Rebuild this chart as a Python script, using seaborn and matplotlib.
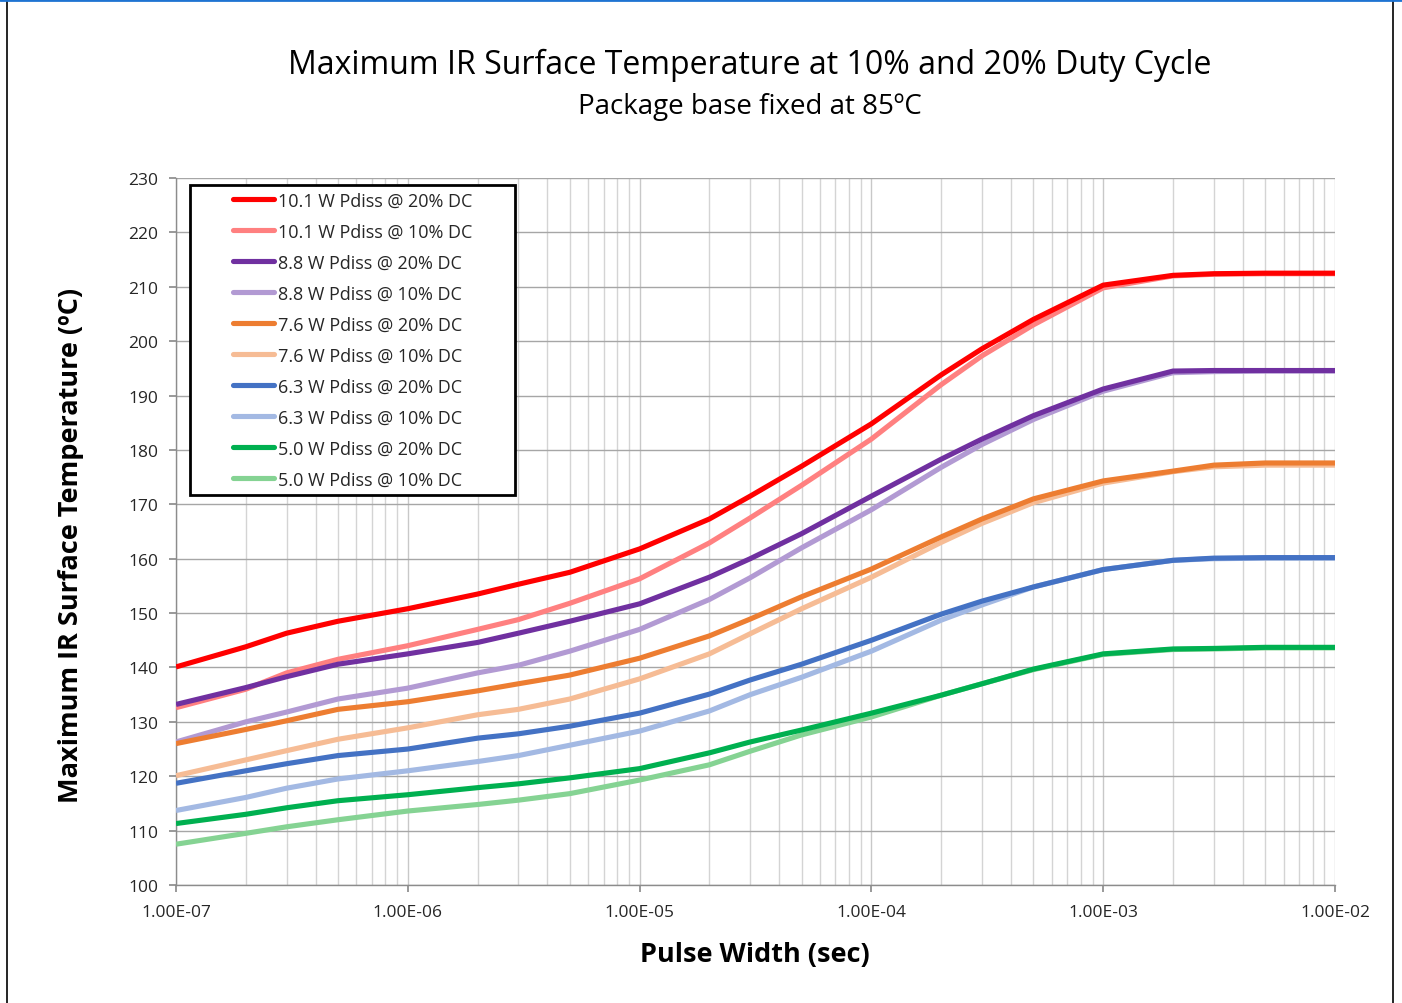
import numpy as np
import pandas as pd
import matplotlib
matplotlib.use("Agg")
import matplotlib.pyplot as plt
import seaborn as sns
from matplotlib.ticker import FixedLocator, FuncFormatter, LogLocator, NullFormatter
from matplotlib.lines import Line2D
from matplotlib.legend_handler import HandlerLine2D

# ---------------- data ----------------
pulse_width = [1e-7, 2e-7, 3e-7, 5e-7, 1e-6, 2e-6, 3e-6, 5e-6, 1e-5, 2e-5, 3e-5,
               5e-5, 1e-4, 2e-4, 3e-4, 5e-4, 1e-3, 2e-3, 3e-3, 5e-3, 1e-2]

t_101_20 = [140.1, 143.8, 146.3, 148.5, 150.8, 153.5, 155.3, 157.5, 161.8, 167.3, 171.5,
            177.0, 184.8, 193.8, 198.6, 204.0, 210.3, 212.1, 212.4, 212.5, 212.5]
t_101_10 = [132.6, 136.0, 139.0, 141.5, 144.0, 147.0, 148.8, 151.8, 156.3, 162.9, 167.5,
            173.5, 182.0, 192.0, 197.3, 203.0, 209.8, 212.0, 212.3, 212.4, 212.4]
t_88_20 = [133.2, 136.3, 138.3, 140.6, 142.5, 144.6, 146.3, 148.5, 151.7, 156.6, 160.0,
           164.6, 171.5, 178.3, 182.0, 186.3, 191.2, 194.5, 194.6, 194.6, 194.6]
t_88_10 = [126.3, 130.0, 131.8, 134.2, 136.2, 139.0, 140.4, 143.0, 147.0, 152.5, 156.5,
           162.0, 169.0, 176.8, 181.0, 185.6, 190.8, 194.2, 194.4, 194.5, 194.5]
t_76_20 = [126.0, 128.6, 130.2, 132.3, 133.7, 135.7, 137.0, 138.6, 141.7, 145.8, 148.9,
           153.0, 158.1, 164.0, 167.3, 171.0, 174.3, 176.1, 177.2, 177.6, 177.6]
t_76_10 = [120.1, 123.0, 124.7, 126.8, 128.9, 131.3, 132.3, 134.2, 137.9, 142.5, 146.2,
           150.8, 156.6, 163.0, 166.5, 170.3, 173.9, 176.0, 176.9, 177.2, 177.2]
t_63_20 = [118.7, 121.0, 122.3, 123.8, 125.0, 127.0, 127.8, 129.2, 131.6, 135.1, 137.7,
           140.6, 145.0, 149.8, 152.2, 154.8, 158.0, 159.7, 160.1, 160.2, 160.2]
t_63_10 = [113.7, 116.1, 117.8, 119.5, 121.0, 122.7, 123.8, 125.7, 128.3, 132.0, 135.0,
           138.2, 143.0, 148.7, 151.5, 154.8, 158.0, 159.7, 160.0, 160.1, 160.1]
t_50_20 = [111.3, 113.0, 114.2, 115.5, 116.6, 117.9, 118.6, 119.7, 121.4, 124.3, 126.3,
           128.5, 131.6, 134.9, 137.0, 139.7, 142.5, 143.4, 143.5, 143.7, 143.7]
t_50_10 = [107.5, 109.5, 110.7, 112.0, 113.6, 114.8, 115.6, 116.8, 119.3, 122.1, 124.6,
           127.6, 130.9, 134.9, 137.0, 139.6, 142.4, 143.3, 143.4, 143.6, 143.6]

series_labels = ["10.1 W Pdiss @ 20% DC", "10.1 W Pdiss @ 10% DC",
                 "8.8 W Pdiss @ 20% DC", "8.8 W Pdiss @ 10% DC",
                 "7.6 W Pdiss @ 20% DC", "7.6 W Pdiss @ 10% DC",
                 "6.3 W Pdiss @ 20% DC", "6.3 W Pdiss @ 10% DC",
                 "5.0 W Pdiss @ 20% DC", "5.0 W Pdiss @ 10% DC"]
series_values = [t_101_20, t_101_10, t_88_20, t_88_10, t_76_20, t_76_10,
                 t_63_20, t_63_10, t_50_20, t_50_10]
series_colors = ["#FF0000", "#FF8080", "#7030A0", "#B29AD3", "#ED7D31", "#F6BC95",
                 "#4472C4", "#A3B9E3", "#00B050", "#85D393"]

x_ticks = [1e-7, 1e-6, 1e-5, 1e-4, 1e-3, 1e-2]
y_ticks = list(range(100, 231, 10))

# ---------------- frame ----------------
rows = []
for lab, vals in zip(series_labels, series_values):
    for xv, yv in zip(pulse_width, vals):
        rows.append({"Pulse Width": xv, "Temp": yv, "Series": lab})
df = pd.DataFrame(rows)

sns.set_theme(style="white")
plt.rcParams["font.family"] = ["Open Sans", "DejaVu Sans"]

W, H = 1402, 1004
fig = plt.figure(figsize=(W / 100, H / 100), dpi=100)
ax = fig.add_axes([176 / W, 1 - 886 / H, (1335 - 176) / W, (886 - 179) / H])

palette = dict(zip(series_labels, series_colors))
sns.lineplot(data=df, x="Pulse Width", y="Temp", hue="Series", hue_order=series_labels,
             palette=palette, linewidth=3.7, sort=False, ax=ax, legend=False)

# darker (20% DC) lines on top of the lighter (10% DC) ones
for i, ln in enumerate(ax.lines):
    ln.set_zorder(4 if i % 2 == 0 else 3)
    ln.set_solid_capstyle("butt")

ax.set_xscale("log")
ax.set_xlim(1e-7, 1e-2)
ax.set_ylim(100, 230)

ax.xaxis.set_major_locator(FixedLocator(x_ticks))
ax.xaxis.set_minor_locator(LogLocator(base=10, subs=np.arange(2, 10), numticks=20))
ax.xaxis.set_minor_formatter(NullFormatter())
ax.xaxis.set_major_formatter(FuncFormatter(lambda v, p: f"{v:.2E}"))
ax.yaxis.set_major_locator(FixedLocator(y_ticks))

ax.grid(which="major", axis="x", color="#C8C8C8", linewidth=1.0, zorder=0)
ax.grid(which="minor", axis="x", color="#D4D4D4", linewidth=1.0, zorder=0)
ax.grid(which="major", axis="y", color="#A6A6A6", linewidth=1.0, zorder=0)

for s in ["top", "right"]:
    ax.spines[s].set_visible(False)
for s in ["left", "bottom"]:
    ax.spines[s].set_color("#8C8C8C")
    ax.spines[s].set_linewidth(1.0)

ax.tick_params(axis="x", which="major", direction="out", length=5, color="#8C8C8C",
               labelsize=12.5, labelcolor="#262626", pad=9, bottom=True)
ax.tick_params(axis="x", which="minor", length=0)
ax.tick_params(axis="y", which="major", direction="out", length=5, color="#8C8C8C",
               labelsize=12.5, labelcolor="#262626", pad=8, left=True)

ax.set_xlabel("Pulse Width (sec)", fontsize=19.5, fontweight="bold", color="black")
ax.set_ylabel("Maximum IR Surface Temperature (ºC)", fontsize=19.5, fontweight="bold",
              color="black")
ax.xaxis.set_label_coords((755 - 176) / 1159, (886 - 942) / 707)
ax.yaxis.set_label_coords((84 - 176) / 1159, (886 - 545) / 707)

fig.text(750 / W, 1 - 65 / H, "Maximum IR Surface Temperature at 10% and 20% Duty Cycle",
         ha="center", va="center", fontsize=23, color="black")
fig.text(750 / W, 1 - 107 / H, "Package base fixed at 85ºC",
         ha="center", va="center", fontsize=20, color="black")


class RightLineHandler(HandlerLine2D):
    """Draw the legend sample only on the right part of the handle box."""
    def create_artists(self, legend, orig_handle, xdescent, ydescent, width, height,
                       fontsize, trans):
        x0 = -xdescent + width * 0.47
        x1 = -xdescent + width
        y = (height - ydescent) / 2
        ln = Line2D([x0, x1], [y, y], color=orig_handle.get_color(),
                    linewidth=orig_handle.get_linewidth(), solid_capstyle="round")
        ln.set_transform(trans)
        return [ln]


handles = [Line2D([0], [0], color=c, linewidth=3.7) for c in series_colors]
top_frac = 1 - (186 - 179) / 707
leg = ax.legend(handles, series_labels, loc="upper left",
                bbox_to_anchor=((190 - 176) / 1159, top_frac - 0.001, 325 / 1159, 0.001),
                mode="expand", fontsize=13, frameon=True, fancybox=False,
                handlelength=4.3, handletextpad=0.2, labelspacing=0.72,
                borderpad=0.36, borderaxespad=0.0, framealpha=1.0,
                handler_map={Line2D: RightLineHandler()})
frame = leg.get_frame()
frame.set_edgecolor("black")
frame.set_linewidth(2.0)
frame.set_alpha(1.0)
leg.set_zorder(5)
for t in leg.get_texts():
    t.set_color("#262626")

# outer frame lines
fig.add_artist(Line2D([7 / W, 7 / W], [0, 0.998], color="black", linewidth=1.2,
                      transform=fig.transFigure))
fig.add_artist(Line2D([1393 / W, 1393 / W], [0, 0.998], color="black", linewidth=1.2,
                      transform=fig.transFigure))
fig.add_artist(Line2D([0, 1], [0.999, 0.999], color="#1E73D2", linewidth=2,
                      transform=fig.transFigure))

fig.savefig("out.png", dpi=100, facecolor="white")
